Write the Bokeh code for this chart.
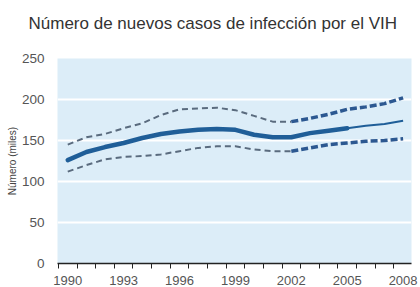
from bokeh.plotting import figure
from bokeh.models import FixedTicker, Range1d, Title
from bokeh.embed import file_html
from bokeh.resources import INLINE

years = list(range(1990, 2009))
central = [126, 136, 142, 147, 153, 158, 161, 163, 164, 163, 157, 154, 154, 159, 162, 165, 168, 170, 174]
upper = [145, 154, 158, 165, 171, 181, 188, 189, 190, 187, 180, 173, 173, 177, 182, 188, 191, 195, 202]
lower = [112, 120, 127, 130, 131, 133, 137, 141, 143, 143, 139, 137, 137, 141, 145, 147, 149, 150, 152]
y_ticks = [0, 50, 100, 150, 200, 250]
x_label_years = [1990, 1993, 1996, 1999, 2002, 2005, 2008]

title_text = "Número de nuevos casos de infección por el VIH"
y_title = "Número (miles)"

FONT = "Liberation Sans"

p = figure(width=419, height=287, output_backend="svg", toolbar_location=None,
           x_range=Range1d(1989.45, 2008.45), y_range=Range1d(0, 250),
           min_border_left=57, min_border_right=8, min_border_top=58, min_border_bottom=21)
p.background_fill_color = "#dcedf8"
p.border_fill_color = "white"
p.outline_line_color = None

# grid
p.xgrid.grid_line_color = None
p.ygrid.ticker = FixedTicker(ticks=[50, 100, 150, 200])
p.ygrid.grid_line_color = "white"
p.ygrid.grid_line_width = 2

# x axis
p.xaxis.ticker = FixedTicker(ticks=x_label_years, minor_ticks=[y - 0.5 for y in years] + [2008.5])
p.xaxis.major_tick_out = 0
p.xaxis.major_tick_in = 0
p.xaxis.minor_tick_out = 5
p.xaxis.minor_tick_in = 0
p.xaxis.minor_tick_line_color = "#222222"
p.xaxis.axis_line_color = "#222222"
p.xaxis.axis_line_width = 1.3
p.xaxis.major_label_text_font = FONT
p.xaxis.major_label_text_font_size = "13px"
p.xaxis.major_label_text_color = "#555555"
p.xaxis.major_label_standoff = 7

# y axis
p.yaxis.ticker = FixedTicker(ticks=y_ticks)
p.yaxis.axis_line_color = None
p.yaxis.major_tick_line_color = None
p.yaxis.minor_tick_line_color = None
p.yaxis.major_label_text_font = FONT
p.yaxis.major_label_text_font_size = "13.5px"
p.yaxis.major_label_text_color = "#555555"
p.yaxis.major_label_standoff = 7
p.yaxis.axis_label = y_title
p.yaxis.axis_label_text_font = FONT
p.yaxis.axis_label_text_font_size = "10px"
p.yaxis.axis_label_text_font_style = "normal"
p.yaxis.axis_label_text_color = "#444444"
p.yaxis.axis_label_standoff = 1

# real title (outermost), blank spacer panel between it and the frame
p.title.text = title_text
p.title.text_font = FONT
p.title.text_font_size = "17px"
p.title.text_font_style = "normal"
p.title.text_color = "#333333"
p.title.align = "left"
p.title.offset = -29
p.title.standoff = 18
p.add_layout(Title(text=" ", text_font_size="10px", standoff=4), "above")

def sub(xs, ys, a, b):
    idx = [i for i, x in enumerate(xs) if a <= x <= b]
    return [xs[i] for i in idx], [ys[i] for i in idx]

# dashed bounds: thin early, thick late
for series in (upper, lower):
    xs, ys = sub(years, series, 1990, 2002)
    p.line(xs, ys, line_color="#5a6b7e", line_width=2, line_dash="6 4")
    xs, ys = sub(years, series, 2002, 2008)
    p.line(xs, ys, line_color="#2c5891", line_width=3.5, line_dash="7 3")

# central estimate
xs, ys = sub(years, central, 1990, 2005)
p.line(xs, ys, line_color="#1f5e98", line_width=4.5, line_cap="round")
xs, ys = sub(years, central, 2005, 2008)
p.line(xs, ys, line_color="#1f5e98", line_width=2)

open("out.html", "w").write(file_html(p, INLINE))
